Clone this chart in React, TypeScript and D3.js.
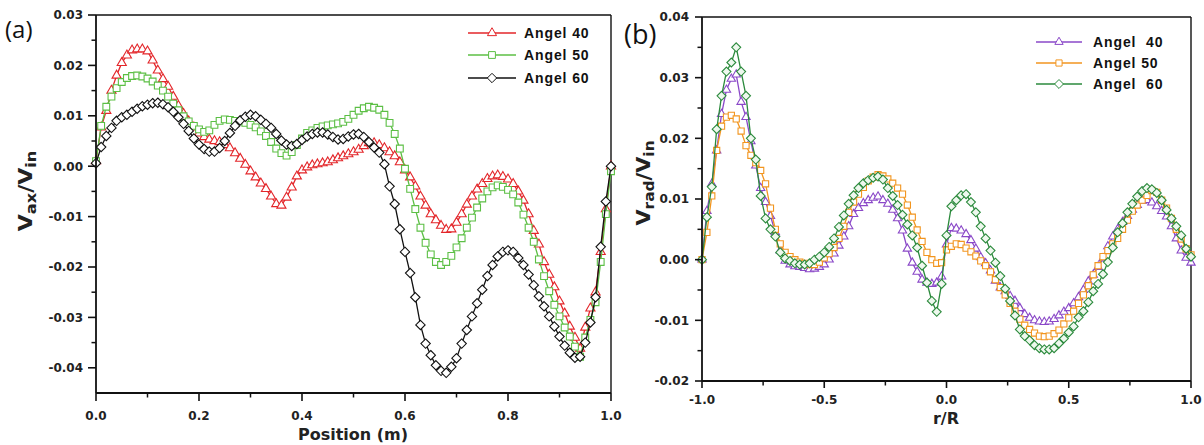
import React from 'react';
import * as d3 from 'd3';

// ---------- Panel (a): axial velocity along the position ----------
const POSITION = [
  0.0, 0.01, 0.02, 0.03, 0.04, 0.05, 0.06, 0.07, 0.08, 0.09,
  0.1, 0.11, 0.12, 0.13, 0.14, 0.15, 0.16, 0.17, 0.18, 0.19,
  0.2, 0.21, 0.22, 0.23, 0.24, 0.25, 0.26, 0.27, 0.28, 0.29,
  0.3, 0.31, 0.32, 0.33, 0.34, 0.35, 0.36, 0.37, 0.38, 0.39,
  0.4, 0.41, 0.42, 0.43, 0.44, 0.45, 0.46, 0.47, 0.48, 0.49,
  0.5, 0.51, 0.52, 0.53, 0.54, 0.55, 0.56, 0.57, 0.58, 0.59,
  0.6, 0.61, 0.62, 0.63, 0.64, 0.65, 0.66, 0.67, 0.68, 0.69,
  0.7, 0.71, 0.72, 0.73, 0.74, 0.75, 0.76, 0.77, 0.78, 0.79,
  0.8, 0.81, 0.82, 0.83, 0.84, 0.85, 0.86, 0.87, 0.88, 0.89,
  0.9, 0.91, 0.92, 0.93, 0.94, 0.95, 0.96, 0.97, 0.98, 0.99,
  1.0,
];

const VAX_ANGEL_40 = [
  0.001, 0.0077, 0.011, 0.015, 0.018, 0.0205, 0.022, 0.023, 0.0232, 0.0232,
  0.0228, 0.021, 0.019, 0.0173, 0.0158, 0.0138, 0.012, 0.0104, 0.0089, 0.0077,
  0.0065, 0.0058, 0.0053, 0.005, 0.0048, 0.0042, 0.0036, 0.0026, 0.0015, 0.0003,
  -0.001, -0.0022, -0.0034, -0.0045, -0.006, -0.0075, -0.0078, -0.0062, -0.0042, -0.002,
  -0.0008, -0.0002, 0.0002, 0.0004, 0.0006, 0.0008, 0.0012, 0.0016, 0.002, 0.0024,
  0.0028, 0.0033, 0.004, 0.0046, 0.0046, 0.0042, 0.0036, 0.0028, 0.002, 0.0008,
  -0.0008, -0.0022, -0.004, -0.006, -0.0078, -0.0095, -0.0107, -0.0118, -0.0126, -0.0125,
  -0.0112, -0.0095, -0.0076, -0.006, -0.0046, -0.0035, -0.0025, -0.002, -0.0018, -0.0021,
  -0.0026, -0.0035, -0.005, -0.0068, -0.0095, -0.0128, -0.0155, -0.019, -0.0215, -0.024,
  -0.0268, -0.0292, -0.0318, -0.034, -0.0362, -0.032, -0.0282, -0.025, -0.017, -0.0085,
  0.0,
];

const VAX_ANGEL_50 = [
  0.001, 0.008, 0.0118, 0.0138, 0.0155, 0.0167, 0.0175, 0.0179, 0.018, 0.0178,
  0.0174, 0.0168, 0.016, 0.015, 0.0138, 0.0124, 0.0111, 0.0099, 0.0089, 0.008,
  0.0073, 0.0068, 0.0071, 0.0082, 0.009, 0.0093, 0.0092, 0.009, 0.0089, 0.0086,
  0.0082, 0.0077, 0.0069, 0.006, 0.0048, 0.0035, 0.0026, 0.0021, 0.0028, 0.0042,
  0.0055, 0.0066, 0.0071, 0.0076, 0.0079, 0.0081, 0.0083, 0.0085, 0.0088, 0.0094,
  0.0102, 0.011, 0.0115, 0.0118, 0.0116, 0.0112, 0.0102, 0.0086, 0.0064, 0.0035,
  -0.0005, -0.0045, -0.0085, -0.0122, -0.0152, -0.0175, -0.019, -0.0196, -0.019, -0.0178,
  -0.0161, -0.0143, -0.0122, -0.0102, -0.0082, -0.0064, -0.005, -0.0042, -0.0038, -0.0041,
  -0.0047, -0.0056, -0.0072, -0.0096, -0.0122, -0.015, -0.0185, -0.0218, -0.0248, -0.0275,
  -0.0298, -0.032, -0.0338, -0.0358, -0.0378, -0.034, -0.0305, -0.027, -0.019, -0.0095,
  -0.001,
];

const VAX_ANGEL_60 = [
  0.0006, 0.0038, 0.006, 0.0076, 0.009, 0.0097, 0.0102, 0.0108, 0.0114, 0.0119,
  0.0122, 0.0125, 0.0126, 0.0123, 0.0117, 0.0108, 0.0097, 0.0084, 0.007, 0.0055,
  0.0043, 0.0034, 0.0029, 0.0029, 0.0036, 0.005, 0.0066, 0.008, 0.0091, 0.0098,
  0.0102, 0.0099, 0.0092, 0.0084, 0.0076, 0.0064, 0.0051, 0.0043, 0.004, 0.0044,
  0.0052, 0.0059, 0.0064, 0.0067, 0.0067, 0.0063, 0.0058, 0.0053, 0.0054, 0.0059,
  0.0063, 0.0064, 0.0058, 0.0048, 0.0037, 0.0027, 0.0004, -0.004, -0.0075, -0.0125,
  -0.017, -0.0212, -0.026, -0.0315, -0.0352, -0.0375, -0.0395, -0.0406, -0.041, -0.0398,
  -0.0381, -0.0352, -0.0325, -0.0298, -0.0272, -0.0245, -0.0218, -0.0196, -0.0179, -0.017,
  -0.0167, -0.017, -0.0182, -0.0196, -0.0215, -0.0236, -0.0258, -0.0278, -0.0298, -0.0318,
  -0.0338, -0.0356, -0.037, -0.038, -0.0378, -0.035, -0.031, -0.026, -0.016, -0.007,
  0.0,
];

const POSITION_TICKS = [0, 0.2, 0.4, 0.6, 0.8, 1.0];
const POSITION_MINOR = [0.1, 0.3, 0.5, 0.7, 0.9];
const VAX_TICKS = [-0.04, -0.03, -0.02, -0.01, 0, 0.01, 0.02, 0.03];
const VAX_MINOR = [-0.035, -0.025, -0.015, -0.005, 0.005, 0.015, 0.025];

// ---------- Panel (b): radial velocity across r/R ----------
const R_OVER_R = [
  -1.0, -0.98, -0.96, -0.94, -0.92, -0.9, -0.88, -0.86, -0.84, -0.82,
  -0.8, -0.78, -0.76, -0.74, -0.72, -0.7, -0.68, -0.66, -0.64, -0.62,
  -0.6, -0.58, -0.56, -0.54, -0.52, -0.5, -0.48, -0.46, -0.44, -0.42,
  -0.4, -0.38, -0.36, -0.34, -0.32, -0.3, -0.28, -0.26, -0.24, -0.22,
  -0.2, -0.18, -0.16, -0.14, -0.12, -0.1, -0.08, -0.06, -0.04, -0.02,
  0.0, 0.02, 0.04, 0.06, 0.08, 0.1, 0.12, 0.14, 0.16, 0.18,
  0.2, 0.22, 0.24, 0.26, 0.28, 0.3, 0.32, 0.34, 0.36, 0.38,
  0.4, 0.42, 0.44, 0.46, 0.48, 0.5, 0.52, 0.54, 0.56, 0.58,
  0.6, 0.62, 0.64, 0.66, 0.68, 0.7, 0.72, 0.74, 0.76, 0.78,
  0.8, 0.82, 0.84, 0.86, 0.88, 0.9, 0.92, 0.94, 0.96, 0.98,
  1.0,
];

const VRAD_ANGEL_40 = [
  0.0, 0.008, 0.0125, 0.018, 0.024, 0.028, 0.0298, 0.0305, 0.026, 0.0235,
  0.0195, 0.0155, 0.0118, 0.0095, 0.0072, 0.0045, 0.0015, -0.0002, -0.0008, -0.0011,
  -0.0012, -0.0014, -0.0016, -0.0015, -0.0012, -0.0008, 0.0, 0.001, 0.0023, 0.0038,
  0.0055, 0.0075, 0.0085, 0.0093, 0.0098, 0.0102, 0.0104, 0.0098, 0.0092, 0.0082,
  0.0068, 0.0048, 0.0018, -0.0005, -0.002, -0.0033, -0.0038, -0.004, -0.0038, -0.0028,
  0.0025, 0.0052, 0.0051, 0.0048, 0.0042, 0.0032, 0.0018, 0.0004, -0.0006, -0.0018,
  -0.0035, -0.0046, -0.0052, -0.006, -0.0068, -0.008, -0.009, -0.0096, -0.01, -0.0102,
  -0.0103, -0.0102, -0.0098, -0.0092, -0.0086, -0.008, -0.0072, -0.0062, -0.005, -0.0036,
  -0.0025, -0.0012, 0.0002, 0.0022, 0.0038, 0.005, 0.0062, 0.0072, 0.0082, 0.009,
  0.0097, 0.0098, 0.0094, 0.0088, 0.008, 0.0071, 0.0055, 0.0035, 0.0015, 0.0003,
  -0.0005,
];

const VRAD_ANGEL_50 = [
  0.0, 0.0045, 0.0105, 0.018, 0.022, 0.0235, 0.0238, 0.0232, 0.0212, 0.0188,
  0.0172, 0.016, 0.0147, 0.0125, 0.0085, 0.005, 0.0026, 0.0012, 0.0005, 0.0,
  -0.0004, -0.0006, -0.0008, -0.0008, -0.0004, 0.0003, 0.001, 0.002, 0.0035, 0.0055,
  0.0078, 0.0095, 0.0108, 0.0119, 0.013, 0.0136, 0.014, 0.0138, 0.0133, 0.0126,
  0.0118, 0.0108, 0.009, 0.007, 0.0049, 0.003, 0.0012, 0.0, -0.0006, -0.0005,
  0.0016, 0.0022, 0.0026, 0.0025, 0.0019, 0.0013, 0.0006, -0.0002, -0.001, -0.002,
  -0.0033, -0.0046, -0.0058, -0.0072, -0.0085, -0.0098, -0.0108, -0.0115, -0.0121, -0.0126,
  -0.0127, -0.0126, -0.0122, -0.0116, -0.0106, -0.0096, -0.0085, -0.0072, -0.0058, -0.0043,
  -0.0025, -0.001, 0.0005, 0.0015, 0.0026, 0.0035, 0.005, 0.0065, 0.008, 0.009,
  0.0098, 0.0106, 0.0114, 0.0111, 0.0098, 0.0085, 0.0068, 0.005, 0.0034, 0.0018,
  0.0008,
];

const VRAD_ANGEL_60 = [
  0.0, 0.007, 0.012, 0.0215, 0.027, 0.031, 0.0325, 0.035, 0.031, 0.027,
  0.02, 0.0165, 0.0105, 0.0068, 0.005, 0.0038, 0.0012, 0.0002, -0.0002, -0.0006,
  -0.0008, -0.0008, -0.0006, 0.0, 0.0005, 0.0012, 0.0021, 0.0035, 0.0054, 0.0073,
  0.0092, 0.0106, 0.0118, 0.0126, 0.0131, 0.0135, 0.0137, 0.0132, 0.0118, 0.0105,
  0.009, 0.0074, 0.0058, 0.004, 0.002, -0.001, -0.0038, -0.0068, -0.0086, -0.004,
  0.004, 0.0088, 0.0098, 0.0106, 0.0108, 0.0095, 0.0078, 0.0055, 0.0035, 0.0015,
  -0.0005, -0.0027, -0.0048, -0.0068, -0.0092, -0.0115, -0.0126, -0.0133, -0.0141, -0.0146,
  -0.0148, -0.0148, -0.0146, -0.0138, -0.013, -0.012, -0.011, -0.0095, -0.0085, -0.007,
  -0.0052, -0.004, -0.0024, -0.0004, 0.002, 0.0045, 0.006, 0.0078, 0.0092, 0.0104,
  0.0113, 0.0118, 0.0116, 0.011, 0.0098, 0.0082, 0.0068, 0.0055, 0.004, 0.0018,
  0.0005,
];

const RR_TICKS = [-1, -0.5, 0, 0.5, 1];
const RR_MINOR = [-0.75, -0.25, 0.25, 0.75];
const VRAD_TICKS = [-0.02, -0.01, 0, 0.01, 0.02, 0.03, 0.04];
const VRAD_MINOR = [-0.015, -0.005, 0.005, 0.015, 0.025, 0.035];

const SERIES_NAMES_A = ['Angel 40', 'Angel 50', 'Angel 60'];
const SERIES_NAMES_B = ['Angel  40', 'Angel 50', 'Angel  60'];

// A square turned on its corner
const diamondSymbol = {
  draw(ctx: any, size: number) {
    const r = Math.sqrt(size / 2);
    ctx.moveTo(0, -r);
    ctx.lineTo(r, 0);
    ctx.lineTo(0, r);
    ctx.lineTo(-r, 0);
    ctx.closePath();
  },
};

type Series = {
  name: string;
  xs: number[];
  ys: number[];
  color: string;
  fill: string;
  symbol: any;
  size: number;
};

type PanelProps = {
  left: number;
  right: number;
  top: number;
  bottom: number;
  xDomain: [number, number];
  yDomain: [number, number];
  xTicks: number[];
  xMinor: number[];
  yTicks: number[];
  yMinor: number[];
  xFmt: (v: number) => string;
  yFmt: (v: number) => string;
  series: Series[];
  legend: { lineX0: number; lineX1: number; textX: number; rows: number[] };
  tickFont: number;
  xLabelOffset: number;
  tickLen: number;
};

const FONT = "'DejaVu Sans', sans-serif";
const LEGEND_FONT = "'Liberation Sans', Arial, sans-serif";

function Panel(p: PanelProps) {
  const x = d3.scaleLinear().domain(p.xDomain).range([p.left, p.right]);
  const y = d3.scaleLinear().domain(p.yDomain).range([p.bottom, p.top]);
  const line = d3
    .line<[number, number]>()
    .x((d) => x(d[0]))
    .y((d) => y(d[1]));

  return (
    <g>
      {/* frame */}
      <line x1={p.left} x2={p.right} y1={p.top} y2={p.top} stroke="#111" strokeWidth={1.4} />
      <line x1={p.right} x2={p.right} y1={p.top} y2={p.bottom} stroke="#111" strokeWidth={1.4} />

      {/* series */}
      {p.series.map((s) => {
        const pts = s.xs.map((v, i) => [v, s.ys[i]] as [number, number]);
        const sym = d3.symbol().type(s.symbol).size(s.size)() as string;
        return (
          <g key={s.name}>
            <path d={line(pts) as string} fill="none" stroke={s.color} strokeWidth={1.3} />
            {pts.map((d, i) => (
              <path
                key={i}
                d={sym}
                transform={`translate(${x(d[0])},${y(d[1])})`}
                fill={s.fill}
                stroke={s.color}
                strokeWidth={1.1}
              />
            ))}
          </g>
        );
      })}

      {/* axes */}
      <line x1={p.left} x2={p.right} y1={p.bottom} y2={p.bottom} stroke="#111" strokeWidth={1.8} />
      <line x1={p.left} x2={p.left} y1={p.top} y2={p.bottom} stroke="#111" strokeWidth={1.8} />
      {p.xTicks.map((t) => (
        <g key={'xt' + t}>
          <line x1={x(t)} x2={x(t)} y1={p.bottom} y2={p.bottom + p.tickLen} stroke="#111" strokeWidth={1.6} />
          <text
            x={x(t)}
            y={p.bottom + p.xLabelOffset}
            textAnchor="middle"
            fontFamily={FONT}
            fontWeight="bold"
            fontSize={p.tickFont}
            fill="#222"
          >
            {p.xFmt(t)}
          </text>
        </g>
      ))}
      {p.xMinor.map((t) => (
        <line key={'xm' + t} x1={x(t)} x2={x(t)} y1={p.bottom} y2={p.bottom + 4.5} stroke="#111" strokeWidth={1.5} />
      ))}
      {p.yTicks.map((t) => (
        <g key={'yt' + t}>
          <line x1={p.left - p.tickLen} x2={p.left} y1={y(t)} y2={y(t)} stroke="#111" strokeWidth={1.6} />
          <text
            x={p.left - 13}
            y={y(t)}
            dy="0.36em"
            textAnchor="end"
            fontFamily={FONT}
            fontWeight="bold"
            fontSize={p.tickFont}
            fill="#222"
          >
            {p.yFmt(t)}
          </text>
        </g>
      ))}
      {p.yMinor.map((t) => (
        <line key={'ym' + t} x1={p.left - 4.5} x2={p.left} y1={y(t)} y2={y(t)} stroke="#111" strokeWidth={1.5} />
      ))}

      {/* legend */}
      {p.series.map((s, i) => {
        const cy = p.legend.rows[i];
        const sym = d3.symbol().type(s.symbol).size(s.size)() as string;
        const mid = (p.legend.lineX0 + p.legend.lineX1) / 2;
        return (
          <g key={'lg' + i}>
            <line x1={p.legend.lineX0} x2={p.legend.lineX1} y1={cy} y2={cy} stroke={s.color} strokeWidth={1.5} />
            <path d={sym} transform={`translate(${mid},${cy})`} fill="#fff" stroke={s.color} strokeWidth={1} />
            <text
              x={p.legend.textX}
              y={cy}
              dy="0.36em"
              fontFamily={LEGEND_FONT}
              fontWeight="bold"
              fontSize={14}
              letterSpacing={0.9}
              fill="#111"
              style={{ whiteSpace: 'pre' }}
            >
              {s.name}
            </text>
          </g>
        );
      })}
    </g>
  );
}

export default function App() {
  const fmt1 = (v: number) => v.toFixed(1);
  const fmt2 = (v: number) => v.toFixed(2);

  const seriesA: Series[] = [
    { name: SERIES_NAMES_A[0], xs: POSITION, ys: VAX_ANGEL_40, color: '#e3262a', fill: '#fff', symbol: d3.symbolTriangle, size: 36 },
    { name: SERIES_NAMES_A[1], xs: POSITION, ys: VAX_ANGEL_50, color: '#5cbf45', fill: '#fff', symbol: d3.symbolSquare, size: 46 },
    { name: SERIES_NAMES_A[2], xs: POSITION, ys: VAX_ANGEL_60, color: '#111111', fill: '#fff', symbol: diamondSymbol, size: 44 },
  ];
  const seriesB: Series[] = [
    { name: SERIES_NAMES_B[0], xs: R_OVER_R, ys: VRAD_ANGEL_40, color: '#8a48c8', fill: '#fff', symbol: d3.symbolTriangle, size: 30 },
    { name: SERIES_NAMES_B[1], xs: R_OVER_R, ys: VRAD_ANGEL_50, color: '#f2951f', fill: '#fff', symbol: d3.symbolSquare, size: 38 },
    { name: SERIES_NAMES_B[2], xs: R_OVER_R, ys: VRAD_ANGEL_60, color: '#2b8a3c', fill: '#eef8ee', symbol: diamondSymbol, size: 40 },
  ];

  return (
    <svg
      width={1204}
      height={445}
      viewBox="0 0 1204 445"
      style={{ position: 'absolute', left: 0, top: 0, background: '#fff' }}
    >
      <rect x={0} y={0} width={1204} height={445} fill="#fff" />

      <Panel
        left={96}
        right={611}
        top={15}
        bottom={393}
        xDomain={[0, 1]}
        yDomain={[-0.045, 0.03]}
        xTicks={POSITION_TICKS}
        xMinor={POSITION_MINOR}
        yTicks={VAX_TICKS}
        yMinor={VAX_MINOR}
        xFmt={fmt1}
        yFmt={fmt2}
        series={seriesA}
        legend={{ lineX0: 468, lineX1: 516, textX: 524, rows: [33, 55, 78] }}
        tickFont={12}
        xLabelOffset={27}
        tickLen={8}
      />
      <Panel
        left={702}
        right={1191}
        top={17}
        bottom={381}
        xDomain={[-1, 1]}
        yDomain={[-0.02, 0.04]}
        xTicks={RR_TICKS}
        xMinor={RR_MINOR}
        yTicks={VRAD_TICKS}
        yMinor={VRAD_MINOR}
        xFmt={fmt1}
        yFmt={fmt2}
        series={seriesB}
        legend={{ lineX0: 1036, lineX1: 1082, textX: 1093, rows: [42, 63, 84] }}
        tickFont={12}
        xLabelOffset={23}
        tickLen={7}
      />

      {/* panel tags */}
      <text x={5} y={38} fontFamily="'Open Sans', sans-serif" fontSize={24} fill="#111">(a)</text>
      <text x={624} y={44} fontFamily="'Open Sans', sans-serif" fontSize={27} fill="#111">(b)</text>

      {/* axis titles */}
      <text x={353} y={440} textAnchor="middle" fontFamily={FONT} fontWeight="bold" fontSize={16} fill="#222">
        Position (m)
      </text>
      <text x={946} y={424} textAnchor="middle" fontFamily={FONT} fontWeight="bold" fontSize={16} fill="#222">
        r/R
      </text>
      <g transform="translate(32,191) rotate(-90) scale(1.16,1)">
        <text textAnchor="middle" fontFamily={FONT} fontWeight="bold" fontSize={19} fill="#222">
          V<tspan fontSize={14} dy={4}>ax</tspan>
          <tspan dy={-4}>/V</tspan>
          <tspan fontSize={14} dy={4}>in</tspan>
        </text>
      </g>
      <g transform="translate(650,183) rotate(-90) scale(1.1,1)">
        <text textAnchor="middle" fontFamily={FONT} fontWeight="bold" fontSize={19} fill="#222">
          V<tspan fontSize={14} dy={4}>rad</tspan>
          <tspan dy={-4}>/V</tspan>
          <tspan fontSize={14} dy={4}>in</tspan>
        </text>
      </g>
    </svg>
  );
}
